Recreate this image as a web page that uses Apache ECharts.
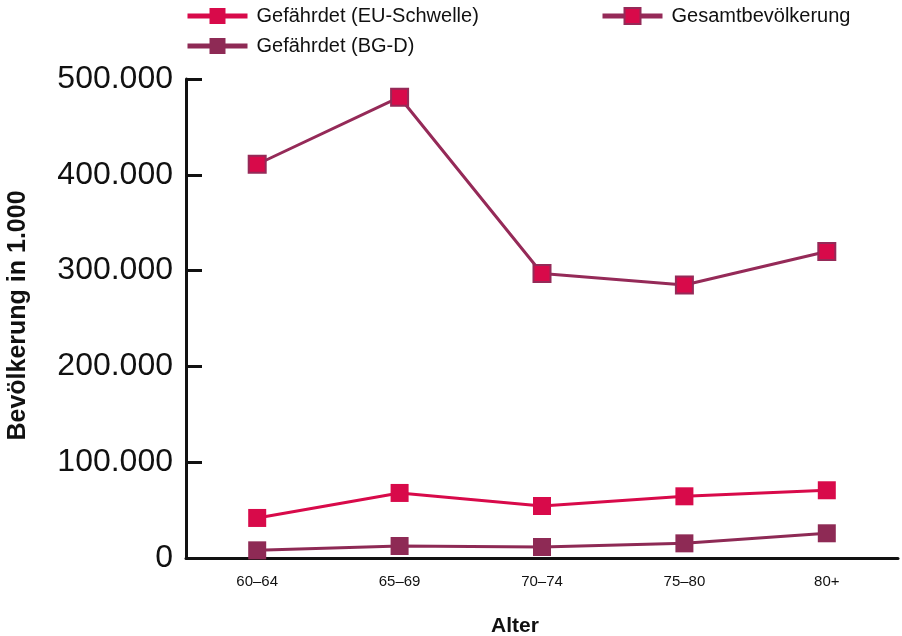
<!DOCTYPE html>
<html>
<head>
<meta charset="utf-8">
<script src="https://cdn.jsdelivr.net/npm/echarts@6/dist/echarts.min.js"></script>
<style>
  html, body { margin: 0; padding: 0; background: #fff; }
  #chart { width: 902px; height: 636px; }
</style>
</head>
<body>
<div id="chart"></div>
<script>
// age groups
const categories = ["60–64", "65–69", "70–74", "75–80", "80+"];

// values in 1.000
const euSchwelle = [41800, 67900, 54300, 64400, 70700];
const gesamt = [411000, 481000, 297000, 285000, 320000];
const bgD = [8000, 12500, 11500, 15300, 25800];

const crimson = "#d80a4a";
const maroon = "#8e2a55";
const font = "Liberation Sans, Arial, Helvetica, sans-serif";

const chart = echarts.init(document.getElementById("chart"));

const legendBase = {
    orient: "horizontal",
    padding: 0,
    itemWidth: 60,
    itemHeight: 20,
    lineStyle: { width: 5 },
    textStyle: {
        fontFamily: font,
        fontSize: 20,
        color: "#111",
        padding: [0, 0, 0, 4],
    },
};

const option = {
    animation: false,
    legend: [
        { ...legendBase, left: 185, top: 6, data: ["Gefährdet (EU-Schwelle)"] },
        { ...legendBase, left: 600, top: 6, data: ["Gesamtbevölkerung"] },
        { ...legendBase, left: 185, top: 36, data: ["Gefährdet (BG-D)"] },
    ],
    grid: {
        left: 186,
        right: 4,
        top: 79,
        bottom: 78,
        outerBoundsMode: "none",
    },
    xAxis: {
        type: "category",
        data: categories,
        boundaryGap: true,
        name: "Alter",
        nameLocation: "middle",
        nameGap: 58,
        nameTextStyle: {
            fontFamily: font,
            fontSize: 21,
            fontWeight: "bold",
            color: "#111",
            padding: [0, 54, 0, 0],
        },
        axisLine: { lineStyle: { color: "#111", width: 3 } },
        axisTick: {
            inside: true,
            length: 15,
            lineStyle: { color: "#111", width: 3 },
        },
        axisLabel: {
            fontFamily: font,
            fontSize: 15,
            color: "#111",
            margin: 16,
        },
        splitLine: { show: false },
    },
    yAxis: {
        type: "value",
        min: 0,
        max: 500000,
        interval: 100000,
        name: "Bevölkerung in 1.000",
        nameLocation: "middle",
        nameGap: 155,
        nameTextStyle: {
            fontFamily: font,
            fontSize: 25,
            fontWeight: "bold",
            color: "#111",
            padding: [0, 0, 0, 6],
        },
        axisLine: { show: true, lineStyle: { color: "#111", width: 3 } },
        axisTick: {
            show: true,
            inside: true,
            length: 16,
            lineStyle: { color: "#111", width: 3 },
        },
        axisLabel: {
            fontFamily: font,
            fontSize: 32,
            color: "#111",
            margin: 13,
            formatter: (v) =>
                v === 0 ? "0" : String(v).replace(/\B(?=(\d{3})+(?!\d))/g, "."),
        },
        splitLine: { show: false },
    },
    series: [
        {
            name: "Gefährdet (EU-Schwelle)",
            type: "line",
            data: euSchwelle,
            symbol: "rect",
            symbolSize: 18,
            lineStyle: { color: crimson, width: 3 },
            itemStyle: { color: crimson, borderWidth: 0 },
        },
        {
            name: "Gesamtbevölkerung",
            type: "line",
            data: gesamt,
            symbol: "rect",
            symbolSize: 17,
            lineStyle: { color: "#952a58", width: 3 },
            itemStyle: { color: crimson, borderColor: "#952a58", borderWidth: 2 },
        },
        {
            name: "Gefährdet (BG-D)",
            type: "line",
            data: bgD,
            symbol: "rect",
            symbolSize: 18,
            lineStyle: { color: maroon, width: 3 },
            itemStyle: { color: maroon, borderWidth: 0 },
        },
    ],
};

chart.setOption(option);
</script>
</body>
</html>
